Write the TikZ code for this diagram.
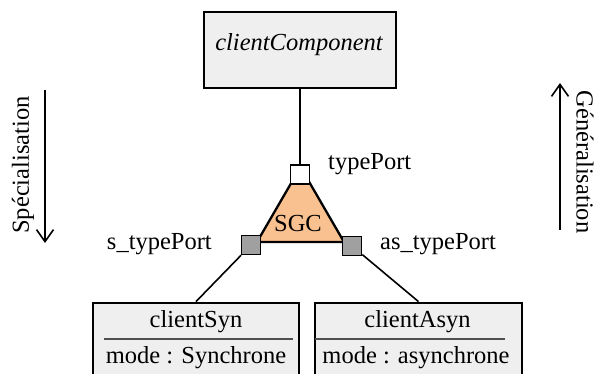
\documentclass[tikz,border=0pt]{standalone}
\usepackage{fontspec}
\setmainfont{Liberation Serif}
\usetikzlibrary{arrows.meta}
\definecolor{BoxGray}{HTML}{EFEFEF}
\definecolor{SgcPeach}{HTML}{F9C18F}
\definecolor{PortGray}{HTML}{A0A0A0}
\definecolor{RuleGray}{HTML}{505050}

\begin{document}
\begin{tikzpicture}[
    x=1pt,y=-1pt,
    txt/.style={font=\fontsize{24.5}{29}\selectfont,inner sep=0pt},
    umlbox/.style={draw,line width=2.8pt,fill=BoxGray,inner sep=0pt},
    port/.style={draw,line width=1.5pt,minimum size=19pt,inner sep=0pt},
    link/.style={line width=1.6pt},
    >={Straight Barb[length=12pt,width=17pt]}
  ]
  \useasboundingbox (0,0) rectangle (595,374);
  \clip (0,0) rectangle (595,374);

  % client component
  \node[umlbox,minimum width=192pt,minimum height=76pt] (cc) at (300,50) {};
  \node[txt,anchor=base] (cctxt) at (299,51) {\itshape clientComponent};

  % SGC triangle with its ports
  \coordinate (tt) at (300.5,167);
  \coordinate (tl) at (257,242);
  \coordinate (tr) at (344,242);
  \draw[line width=2.3pt,fill=SgcPeach] (tt) -- (tl) -- (tr) -- cycle;
  \node[txt,anchor=base] (sgc) at (298,232) {SGC};
  \node[port,fill=white] (tp) at (300,174.5) {};
  \node[port,fill=PortGray] (lp) at (251,245) {};
  \node[port,fill=PortGray] (rp) at (352,246) {};
  \node[txt,anchor=base west] (tplab) at (328,170) {typePort};
  \node[txt,anchor=base east] (lplab) at (212,250) {s\_typePort};
  \node[txt,anchor=base west] (rplab) at (380,250) {as\_typePort};

  % client classes
  \node[umlbox,minimum width=206pt,minimum height=92pt] (syn) at (196,349) {};
  \node[txt,anchor=base] (synname) at (196,327) {clientSyn};
  \draw[line width=1.5pt,RuleGray] (104,339) -- (293,339);
  \node[txt,anchor=base] (synattr) at (196,363) {mode : Synchrone};

  \node[umlbox,minimum width=207pt,minimum height=92pt] (asyn) at (418.5,349) {};
  \node[txt,anchor=base] (asynname) at (417.5,327) {clientAsyn};
  \draw[line width=1.5pt,RuleGray] (315,339) -- (505,339);
  \node[txt,anchor=base] (asynattr) at (416,363) {mode : asynchrone};

  % connectors
  \draw[link] (cc) -- (tp);
  \draw[link] (lp) -- (syn.north);
  \draw[link] (rp) -- (asyn.north);

  % direction arrows
  \coordinate (specTop) at (45,90);
  \coordinate (specBot) at (45,243);
  \draw[->,line width=1.6pt] (specTop) -- (specBot);
  \node[txt,rotate=90] (spec) at (23,165) {Spécialisation};
  \coordinate (genBot) at (560,230);
  \coordinate (genTop) at (560,83);
  \draw[->,line width=1.6pt] (genBot) -- (genTop);
  \node[txt,rotate=-90] (gen) at (585,162) {Généralisation};
\end{tikzpicture}
\end{document}
